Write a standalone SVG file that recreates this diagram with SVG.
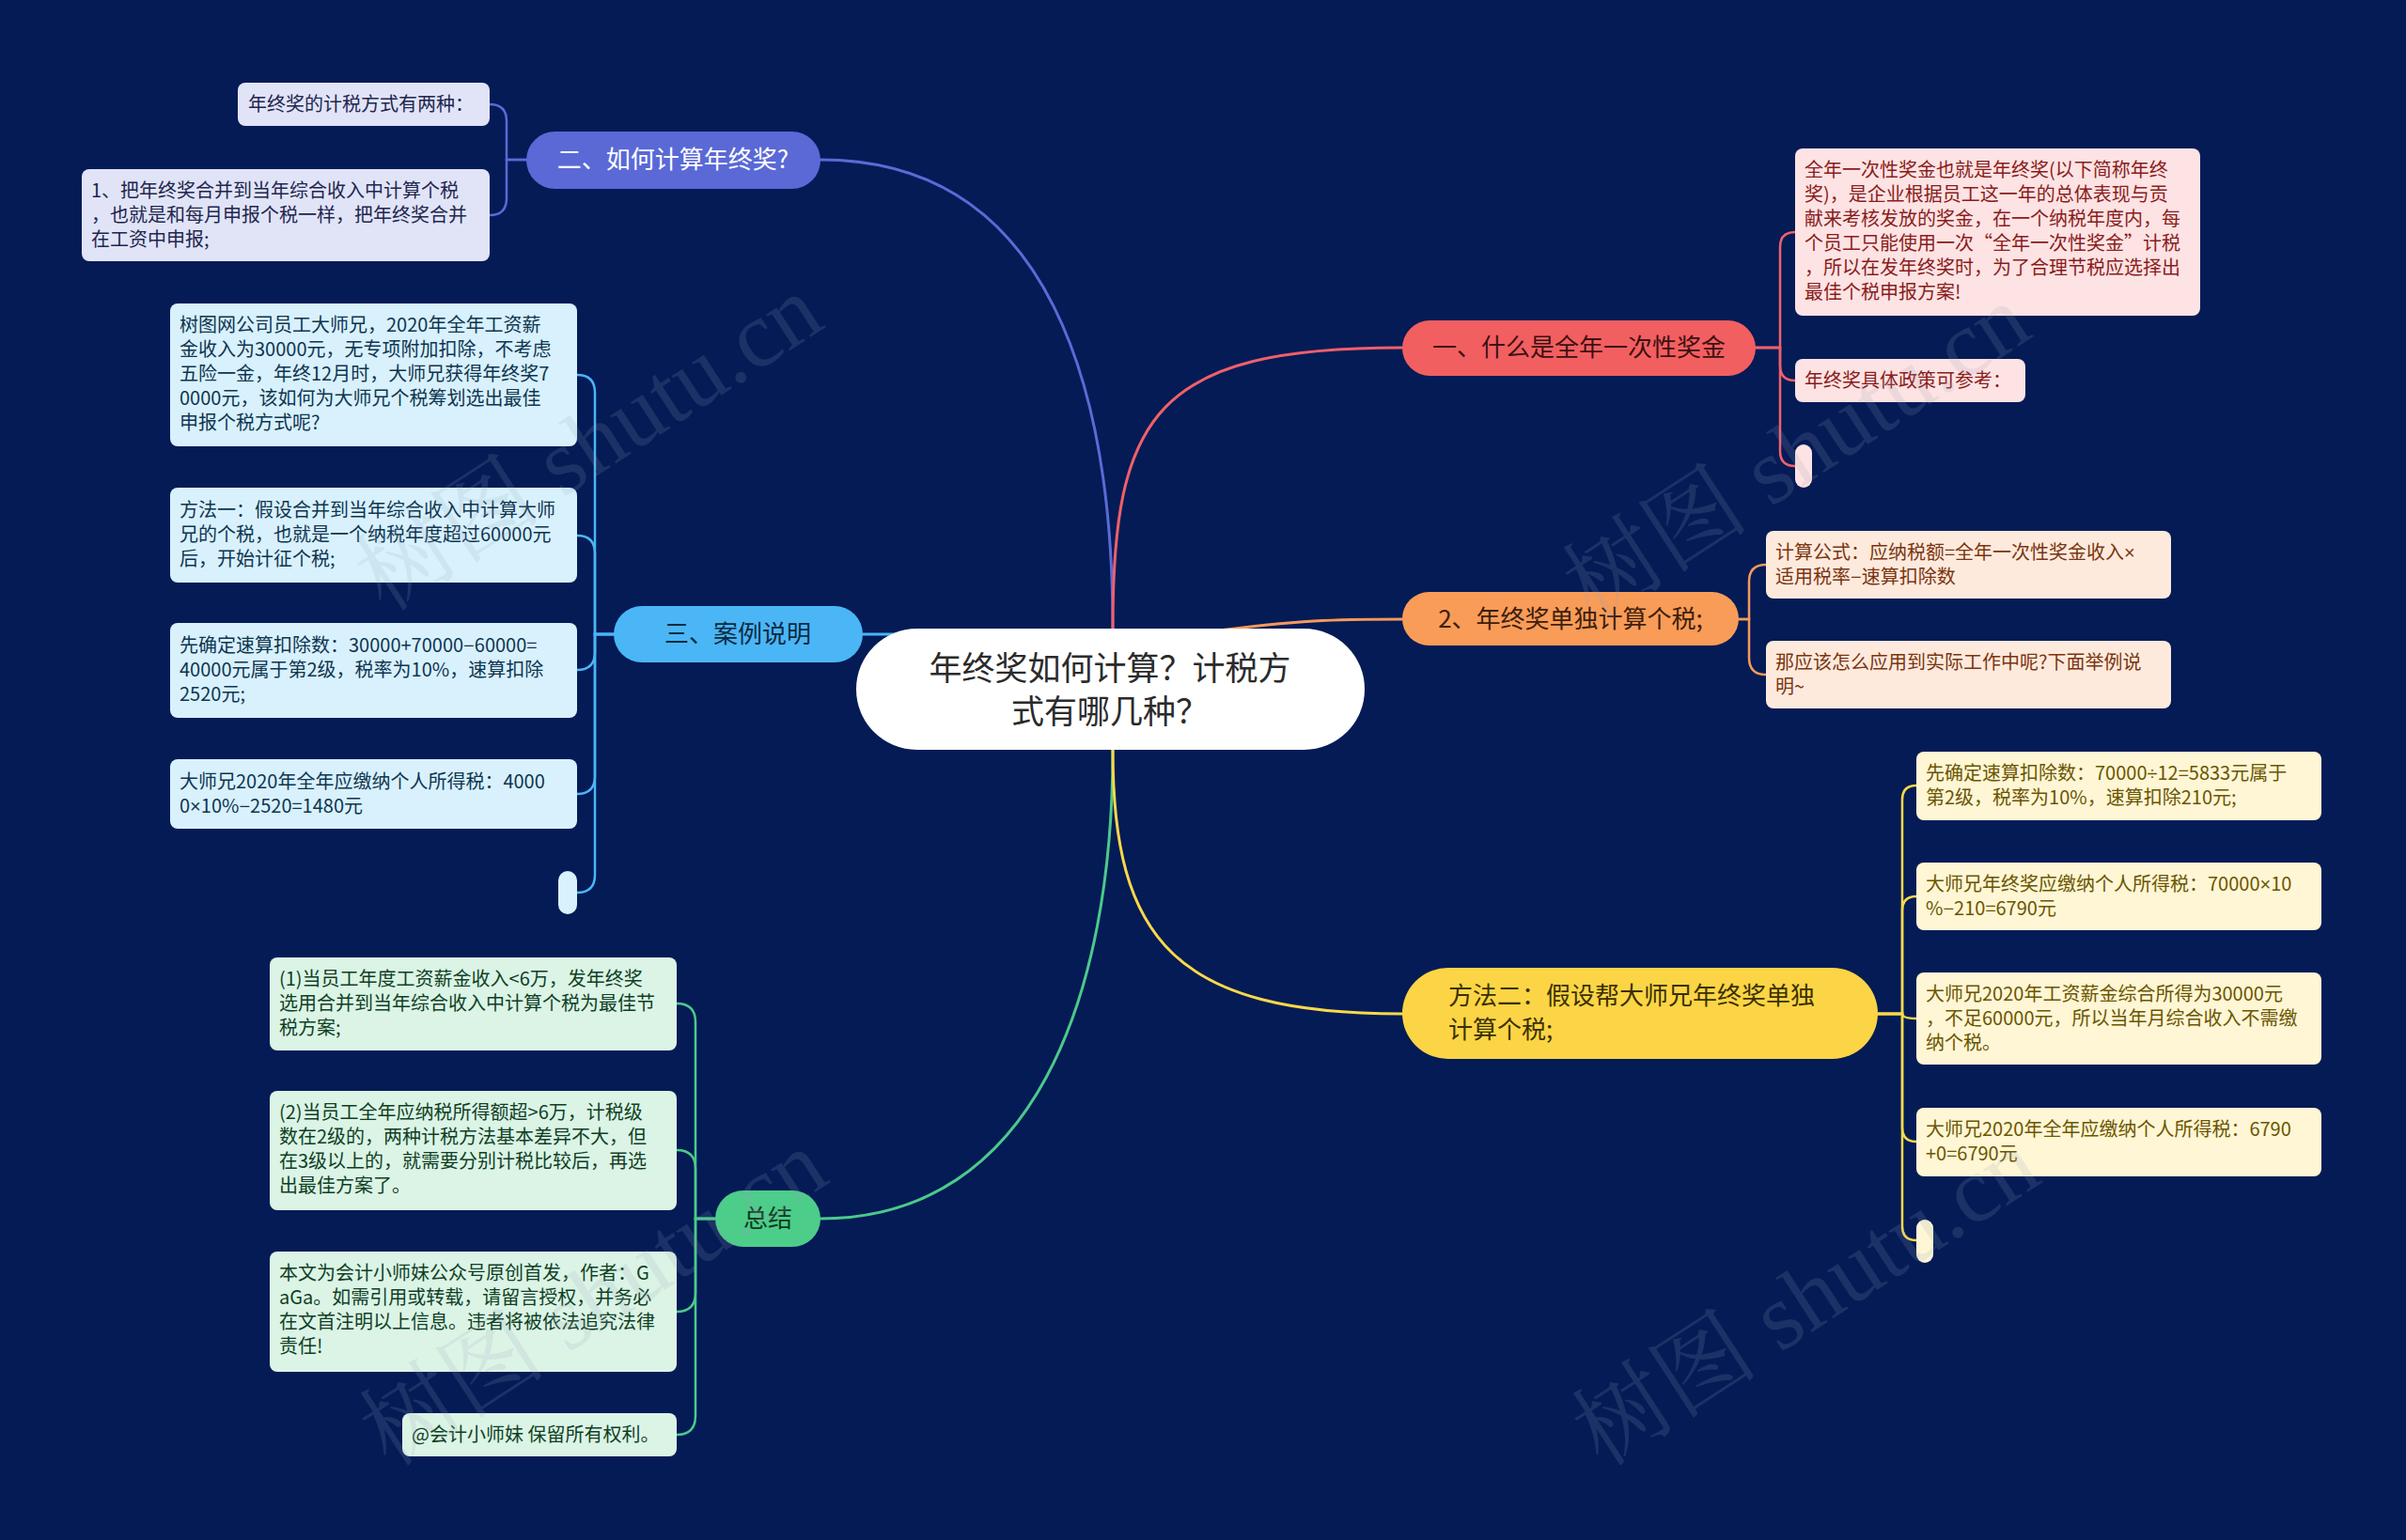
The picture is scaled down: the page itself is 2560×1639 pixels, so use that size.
<svg xmlns="http://www.w3.org/2000/svg" width="2560" height="1639" viewBox="0 0 2560 1639">
<style>
text{font-family:"Noto Sans CJK SC","Noto Sans",sans-serif}
.leaf{font-size:20px}
.br{font-size:26px}
.c{fill:none;stroke-width:3;stroke-linecap:round}
.lc{fill:none;stroke-width:2.5;stroke-linecap:round}
.m{font-family:"Liberation Sans",sans-serif}
.wm{font-family:"Liberation Serif","Noto Serif CJK SC","Noto Sans CJK SC",serif;font-size:100px;fill:#9aa3b8;opacity:0.16}
</style>
<rect x="0" y="0" width="2560" height="1639" fill="#041b56"/>
<g id="connectors">
  <path class="c" stroke="#5a6ad6" d="M1184,669 C1184,420 1120,170 873,170"/>
  <path class="c" stroke="#f0606a" d="M1184,669 C1184,440 1230,370 1492,370"/>
  <path class="c" stroke="#f59a5a" d="M1290,672 C1380,660 1420,659 1492,659"/>
  <path class="c" stroke="#4ab5f5" d="M918,675 L1000,675"/>
  <path class="c" stroke="#4cc98a" d="M1184,798 C1184,1060 1100,1297 873,1297"/>
  <path class="c" stroke="#f9d94a" d="M1184,798 C1184,1000 1250,1079 1492,1079"/>
  <path class="lc" stroke="#5a6ad6" d="M560,170 H539 V129 Q539,111 521,111"/>
  <path class="lc" stroke="#5a6ad6" d="M560,170 H539 V211 Q539,229 521,229"/>
  <path class="lc" stroke="#4ab5f5" d="M653,675 H633 V418 Q633,399 614,399"/>
  <path class="lc" stroke="#4ab5f5" d="M653,675 H633 V589 Q633,570 614,570"/>
  <path class="lc" stroke="#4ab5f5" d="M653,675 H633 V694 Q633,713 614,713"/>
  <path class="lc" stroke="#4ab5f5" d="M653,675 H633 V826 Q633,845 614,845"/>
  <path class="lc" stroke="#4ab5f5" d="M653,675 H633 V931 Q633,950 614,950"/>
  <path class="lc" stroke="#4cc98a" d="M761,1297 H740 V1088 Q740,1068 720,1068"/>
  <path class="lc" stroke="#4cc98a" d="M761,1297 H740 V1244 Q740,1224 720,1224"/>
  <path class="lc" stroke="#4cc98a" d="M761,1297 H740 V1376 Q740,1396 720,1396"/>
  <path class="lc" stroke="#4cc98a" d="M761,1297 H740 V1507 Q740,1527 720,1527"/>
  <path class="lc" stroke="#f0606a" d="M1868,370 H1894 V263 Q1894,247 1910,247"/>
  <path class="lc" stroke="#f0606a" d="M1868,370 H1894 V389 Q1894,405 1910,405"/>
  <path class="lc" stroke="#f0606a" d="M1868,370 H1894 V480 Q1894,496 1910,496"/>
  <path class="lc" stroke="#f59a5a" d="M1850,659 H1861 V619 Q1861,601 1879,601"/>
  <path class="lc" stroke="#f59a5a" d="M1850,659 H1861 V700 Q1861,718 1879,718"/>
  <path class="lc" stroke="#f9d94a" d="M1998,1079 H2024 V851 Q2024,836 2039,836"/>
  <path class="lc" stroke="#f9d94a" d="M1998,1079 H2024 V969 Q2024,954 2039,954"/>
  <path class="lc" stroke="#f9d94a" d="M1998,1079 H2024 Q2024,1084 2039,1084"/>
  <path class="lc" stroke="#f9d94a" d="M1998,1079 H2024 V1200 Q2024,1215 2039,1215"/>
  <path class="lc" stroke="#f9d94a" d="M1998,1079 H2024 V1305 Q2024,1320 2039,1320"/>
</g>
<g id="center">
  <rect x="911" y="669" width="541" height="129" rx="64.5" fill="#ffffff"/>
  <text x="1181" y="724" font-size="35" text-anchor="middle" fill="#2b2b2b">年终奖如何计算？计税方</text>
  <text x="1181" y="770" font-size="35" text-anchor="middle" fill="#2b2b2b">式有哪几种？</text>
</g>
<g id="b1">
  <rect x="1492" y="341" width="376" height="59" rx="29.5" fill="#f25f61"/>
  <text class="br" x="1680" y="379" text-anchor="middle" fill="#3d1010">一、什么是全年一次性奖金</text>
</g>
<g id="b2">
  <rect x="1492" y="630" width="358" height="57" rx="28.5" fill="#f89c58"/>
  <text class="br" x="1671" y="668" text-anchor="middle" fill="#3d200d">2、年终奖单独计算个税;</text>
</g>
<g id="b3">
  <rect x="1492" y="1030" width="506" height="97" rx="48.5" fill="#fbd545"/>
  <text class="br" x="1541" y="1069" fill="#3b3000">方法二：假设帮大师兄年终奖单独</text>
  <text class="br" x="1541" y="1105" fill="#3b3000">计算个税;</text>
</g>
<g id="b4">
  <rect x="560" y="140" width="313" height="61" rx="30.5" fill="#5a69d6"/>
  <text class="br" x="716" y="179" text-anchor="middle" fill="#ffffff">二、如何计算年终奖?</text>
</g>
<g id="b5">
  <rect x="653" y="645" width="265" height="60" rx="30" fill="#4ab6f6"/>
  <text class="br" x="785" y="684" text-anchor="middle" fill="#0d2a40">三、案例说明</text>
</g>
<g id="b6">
  <rect x="761" y="1267" width="112" height="60" rx="30" fill="#4ccd89"/>
  <text class="br" x="817" y="1306" text-anchor="middle" fill="#0d3a22">总结</text>
</g>
<g id="leafA" class="leaf" fill="#8a1c1c">
  <rect x="1910" y="158" width="431" height="178" rx="8" fill="#fde3e3"/>
  <text x="1920" y="188">全年一次性奖金也就是年终奖(以下简称年终</text>
  <text x="1920" y="214">奖)，是企业根据员工这一年的总体表现与贡</text>
  <text x="1920" y="240">献来考核发放的奖金，在一个纳税年度内，每</text>
  <text x="1920" y="266">个员工只能使用一次“全年一次性奖金”计税</text>
  <text x="1920" y="292">，所以在发年终奖时，为了合理节税应选择出</text>
  <text x="1920" y="318">最佳个税申报方案!</text>
</g>
<g id="leafB" class="leaf" fill="#8a1c1c">
  <rect x="1910" y="382" width="245" height="46" rx="8" fill="#fde3e3"/>
  <text x="1920" y="412">年终奖具体政策可参考：</text>
</g>
<g id="leafC">
  <rect x="1910" y="473" width="18" height="46" rx="9" fill="#fde3e3"/>
</g>
<g id="leafD" class="leaf" fill="#7a3510">
  <rect x="1879" y="565" width="431" height="72" rx="8" fill="#feeadd"/>
  <text x="1889" y="595">计算公式：应纳税额=全年一次性奖金收入<tspan class="m">×</tspan></text>
  <text x="1889" y="621">适用税率<tspan class="m">−</tspan>速算扣除数</text>
</g>
<g id="leafE" class="leaf" fill="#7a3510">
  <rect x="1879" y="682" width="431" height="72" rx="8" fill="#feeadd"/>
  <text x="1889" y="712">那应该怎么应用到实际工作中呢?下面举例说</text>
  <text x="1889" y="738">明~</text>
</g>
<g id="leafF" class="leaf" fill="#6b5500">
  <rect x="2039" y="800" width="431" height="73" rx="8" fill="#fef6d5"/>
  <text x="2049" y="830">先确定速算扣除数：70000<tspan class="m">÷</tspan>12=5833元属于</text>
  <text x="2049" y="856">第2级，税率为10%，速算扣除210元;</text>
</g>
<g id="leafG" class="leaf" fill="#6b5500">
  <rect x="2039" y="918" width="431" height="72" rx="8" fill="#fef6d5"/>
  <text x="2049" y="948">大师兄年终奖应缴纳个人所得税：70000<tspan class="m">×</tspan>10</text>
  <text x="2049" y="974">%<tspan class="m">−</tspan>210=6790元</text>
</g>
<g id="leafH" class="leaf" fill="#6b5500">
  <rect x="2039" y="1035" width="431" height="98" rx="8" fill="#fef6d5"/>
  <text x="2049" y="1065">大师兄2020年工资薪金综合所得为30000元</text>
  <text x="2049" y="1091">，不足60000元，所以当年月综合收入不需缴</text>
  <text x="2049" y="1117">纳个税。</text>
</g>
<g id="leafI" class="leaf" fill="#6b5500">
  <rect x="2039" y="1179" width="431" height="73" rx="8" fill="#fef6d5"/>
  <text x="2049" y="1209">大师兄2020年全年应缴纳个人所得税：6790</text>
  <text x="2049" y="1235">+0=6790元</text>
</g>
<g id="leafJ">
  <rect x="2039" y="1298" width="18" height="46" rx="9" fill="#fef6d5"/>
</g>
<g id="leafK" class="leaf" fill="#22264f">
  <rect x="253" y="88" width="268" height="46" rx="8" fill="#e1e4f7"/>
  <text x="264" y="118">年终奖的计税方式有两种：</text>
</g>
<g id="leafL" class="leaf" fill="#22264f">
  <rect x="87" y="180" width="434" height="98" rx="8" fill="#e1e4f7"/>
  <text x="97" y="210">1、把年终奖合并到当年综合收入中计算个税</text>
  <text x="97" y="236">，也就是和每月申报个税一样，把年终奖合并</text>
  <text x="97" y="262">在工资中申报;</text>
</g>
<g id="leafM" class="leaf" fill="#0f3550">
  <rect x="181" y="323" width="433" height="152" rx="8" fill="#d8f1fd"/>
  <text x="191" y="353">树图网公司员工大师兄，2020年全年工资薪</text>
  <text x="191" y="379">金收入为30000元，无专项附加扣除，不考虑</text>
  <text x="191" y="405">五险一金，年终12月时，大师兄获得年终奖7</text>
  <text x="191" y="431">0000元，该如何为大师兄个税筹划选出最佳</text>
  <text x="191" y="457">申报个税方式呢?</text>
</g>
<g id="leafN" class="leaf" fill="#0f3550">
  <rect x="181" y="519" width="433" height="101" rx="8" fill="#d8f1fd"/>
  <text x="191" y="550">方法一：假设合并到当年综合收入中计算大师</text>
  <text x="191" y="576">兄的个税，也就是一个纳税年度超过60000元</text>
  <text x="191" y="602">后，开始计征个税;</text>
</g>
<g id="leafO" class="leaf" fill="#0f3550">
  <rect x="181" y="663" width="433" height="101" rx="8" fill="#d8f1fd"/>
  <text x="191" y="694">先确定速算扣除数：30000+70000<tspan class="m">−</tspan>60000=</text>
  <text x="191" y="720">40000元属于第2级，税率为10%，速算扣除</text>
  <text x="191" y="746">2520元;</text>
</g>
<g id="leafP" class="leaf" fill="#0f3550">
  <rect x="181" y="808" width="433" height="74" rx="8" fill="#d8f1fd"/>
  <text x="191" y="839">大师兄2020年全年应缴纳个人所得税：4000</text>
  <text x="191" y="865">0<tspan class="m">×</tspan>10%<tspan class="m">−</tspan>2520=1480元</text>
</g>
<g id="leafQ">
  <rect x="594" y="927" width="20" height="46" rx="10" fill="#d8f1fd"/>
</g>
<g id="leafR" class="leaf" fill="#0f3f24">
  <rect x="287" y="1019" width="433" height="99" rx="8" fill="#dbf4e6"/>
  <text x="297" y="1049">(1)当员工年度工资薪金收入&lt;6万，发年终奖</text>
  <text x="297" y="1075">选用合并到当年综合收入中计算个税为最佳节</text>
  <text x="297" y="1101">税方案;</text>
</g>
<g id="leafS" class="leaf" fill="#0f3f24">
  <rect x="287" y="1161" width="433" height="127" rx="8" fill="#dbf4e6"/>
  <text x="297" y="1191">(2)当员工全年应纳税所得额超&gt;6万，计税级</text>
  <text x="297" y="1217">数在2级的，两种计税方法基本差异不大，但</text>
  <text x="297" y="1243">在3级以上的，就需要分别计税比较后，再选</text>
  <text x="297" y="1269">出最佳方案了。</text>
</g>
<g id="leafT" class="leaf" fill="#0f3f24">
  <rect x="287" y="1332" width="433" height="128" rx="8" fill="#dbf4e6"/>
  <text x="297" y="1362">本文为会计小师妹公众号原创首发，作者：G</text>
  <text x="297" y="1388">aGa。如需引用或转载，请留言授权，并务必</text>
  <text x="297" y="1414">在文首注明以上信息。违者将被依法追究法律</text>
  <text x="297" y="1440">责任!</text>
</g>
<g id="leafU" class="leaf" fill="#0f3f24">
  <rect x="428" y="1504" width="292" height="46" rx="8" fill="#dbf4e6"/>
  <text x="438" y="1534">@会计小师妹 保留所有权利。</text>
</g>
<g id="watermarks">
  <text class="wm" transform="translate(645,500) rotate(-33)" text-anchor="middle">树图 shutu.cn</text>
  <text class="wm" transform="translate(1930,510) rotate(-33)" text-anchor="middle">树图 shutu.cn</text>
  <text class="wm" transform="translate(650,1410) rotate(-33)" text-anchor="middle">树图 shutu.cn</text>
  <text class="wm" transform="translate(1940,1410) rotate(-33)" text-anchor="middle">树图 shutu.cn</text>
</g>
</svg>
